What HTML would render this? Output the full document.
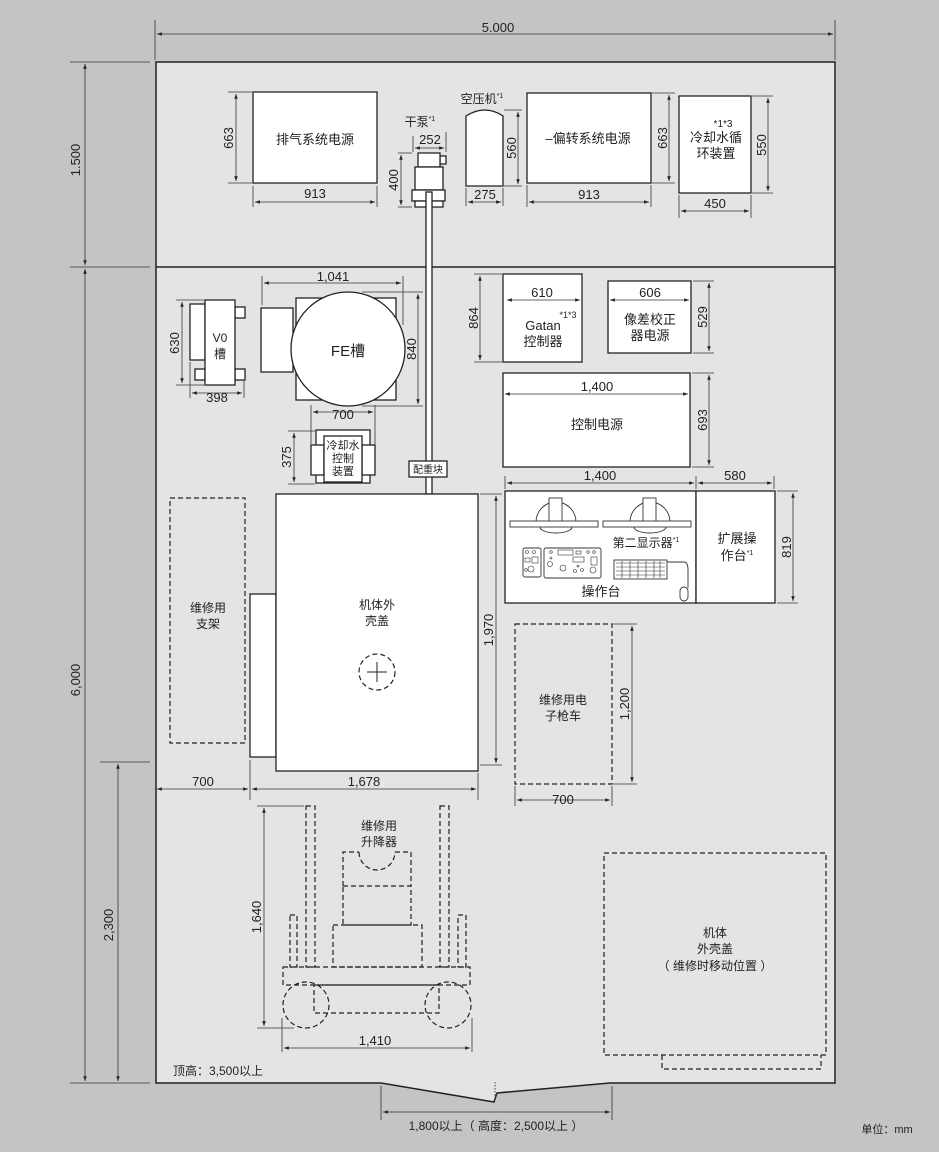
<!DOCTYPE html>
<html><head><meta charset="utf-8">
<style>
html,body{margin:0;padding:0;background:#c5c4c5;}
svg{display:block;font-family:"Liberation Sans","Noto Sans CJK SC",sans-serif;}
</style></head>
<body>
<svg width="939" height="1152" viewBox="0 0 939 1152" xmlns="http://www.w3.org/2000/svg">
<defs>
<marker id="a" viewBox="0 0 8 6" refX="8" refY="3" markerWidth="6" markerHeight="5" orient="auto-start-reverse"><path d="M0,0L8,3L0,6z" fill="#222"/></marker>
</defs>
<rect width="939" height="1152" fill="#c5c4c5"/>
<!-- room -->
<path d="M156,62H835V1083H610L497,1093L494,1102L381,1083H156Z" fill="#e4e4e4" stroke="#222" stroke-width="1.5"/>
<line x1="495" y1="1082" x2="495" y2="1100" stroke="#444" stroke-dasharray="1.5,1.5"/>
<line x1="156" y1="267" x2="835" y2="267" stroke="#222" stroke-width="1.5"/>

<g stroke="#333" stroke-width="0.8" fill="none">
<!-- outer dims -->
<line x1="155" y1="20" x2="155" y2="60"/><line x1="835" y1="20" x2="835" y2="60"/>
<line x1="157" y1="34" x2="833" y2="34" marker-start="url(#a)" marker-end="url(#a)"/>
<line x1="70" y1="62" x2="150" y2="62"/><line x1="70" y1="267" x2="150" y2="267"/>
<line x1="100" y1="762" x2="150" y2="762"/><line x1="70" y1="1083" x2="150" y2="1083"/>
<line x1="85" y1="64" x2="85" y2="265" marker-start="url(#a)" marker-end="url(#a)"/>
<line x1="85" y1="269" x2="85" y2="1081" marker-start="url(#a)" marker-end="url(#a)"/>
<line x1="118" y1="764" x2="118" y2="1081" marker-start="url(#a)" marker-end="url(#a)"/>
<!-- door dim -->
<line x1="381" y1="1086" x2="381" y2="1120"/><line x1="612" y1="1086" x2="612" y2="1120"/>
<line x1="383" y1="1112" x2="610" y2="1112" marker-start="url(#a)" marker-end="url(#a)"/>

<!-- exhaust -->
<line x1="228" y1="92" x2="252" y2="92"/><line x1="228" y1="183" x2="252" y2="183"/>
<line x1="236" y1="94" x2="236" y2="181" marker-start="url(#a)" marker-end="url(#a)"/>
<line x1="253" y1="186" x2="253" y2="207"/><line x1="377" y1="186" x2="377" y2="207"/>
<line x1="255" y1="202" x2="375" y2="202" marker-start="url(#a)" marker-end="url(#a)"/>
<!-- pump -->
<line x1="413" y1="136" x2="413" y2="152"/><line x1="446" y1="132" x2="446" y2="152"/>
<line x1="415" y1="148" x2="444" y2="148" marker-start="url(#a)" marker-end="url(#a)"/>
<line x1="398" y1="153" x2="412" y2="153"/><line x1="398" y1="207" x2="412" y2="207"/>
<line x1="401" y1="155" x2="401" y2="205" marker-start="url(#a)" marker-end="url(#a)"/>
<!-- compressor -->
<line x1="504" y1="110" x2="522" y2="110"/><line x1="504" y1="186" x2="522" y2="186"/>
<line x1="518" y1="112" x2="518" y2="184" marker-start="url(#a)" marker-end="url(#a)"/>
<line x1="466" y1="188" x2="466" y2="206"/><line x1="503" y1="188" x2="503" y2="206"/>
<line x1="468" y1="202" x2="501" y2="202" marker-start="url(#a)" marker-end="url(#a)"/>
<!-- deflection -->
<line x1="652" y1="93" x2="675" y2="93"/><line x1="652" y1="183" x2="675" y2="183"/>
<line x1="669" y1="95" x2="669" y2="181" marker-start="url(#a)" marker-end="url(#a)"/>
<line x1="527" y1="185" x2="527" y2="207"/><line x1="651" y1="185" x2="651" y2="207"/>
<line x1="529" y1="202" x2="649" y2="202" marker-start="url(#a)" marker-end="url(#a)"/>
<!-- cooling circ -->
<line x1="752" y1="96" x2="773" y2="96"/><line x1="752" y1="193" x2="773" y2="193"/>
<line x1="768" y1="98" x2="768" y2="191" marker-start="url(#a)" marker-end="url(#a)"/>
<line x1="679" y1="195" x2="679" y2="218"/><line x1="751" y1="195" x2="751" y2="218"/>
<line x1="681" y1="211" x2="749" y2="211" marker-start="url(#a)" marker-end="url(#a)"/>

<!-- FE -->
<line x1="262" y1="276" x2="262" y2="305"/><line x1="403" y1="276" x2="403" y2="325"/>
<line x1="264" y1="283" x2="401" y2="283" marker-start="url(#a)" marker-end="url(#a)"/>
<line x1="362" y1="292" x2="423" y2="292"/><line x1="362" y1="406" x2="423" y2="406"/>
<line x1="418" y1="294" x2="418" y2="404" marker-start="url(#a)" marker-end="url(#a)"/>
<!-- V0 -->
<line x1="176" y1="300" x2="204" y2="300"/><line x1="176" y1="385" x2="204" y2="385"/>
<line x1="182" y1="302" x2="182" y2="383" marker-start="url(#a)" marker-end="url(#a)"/>
<line x1="190" y1="362" x2="190" y2="398"/><line x1="244" y1="381" x2="244" y2="398"/>
<line x1="192" y1="393" x2="242" y2="393" marker-start="url(#a)" marker-end="url(#a)"/>
<!-- cooling ctrl -->
<line x1="311" y1="405" x2="311" y2="444"/><line x1="375" y1="405" x2="375" y2="444"/>
<line x1="313" y1="412" x2="373" y2="412" marker-start="url(#a)" marker-end="url(#a)"/>
<line x1="288" y1="431" x2="315" y2="431"/><line x1="288" y1="484" x2="315" y2="484"/>
<line x1="294" y1="433" x2="294" y2="482" marker-start="url(#a)" marker-end="url(#a)"/>
<!-- Gatan -->
<line x1="474" y1="274" x2="502" y2="274"/><line x1="474" y1="362" x2="502" y2="362"/>
<line x1="480" y1="276" x2="480" y2="360" marker-start="url(#a)" marker-end="url(#a)"/>
<line x1="693" y1="281" x2="714" y2="281"/><line x1="693" y1="353" x2="714" y2="353"/>
<line x1="709" y1="283" x2="709" y2="351" marker-start="url(#a)" marker-end="url(#a)"/>
<line x1="692" y1="373" x2="714" y2="373"/><line x1="692" y1="467" x2="714" y2="467"/>
<line x1="709" y1="375" x2="709" y2="465" marker-start="url(#a)" marker-end="url(#a)"/>
<!-- console -->
<line x1="505" y1="476" x2="505" y2="489"/><line x1="696" y1="476" x2="696" y2="489"/><line x1="774" y1="476" x2="774" y2="489"/>
<line x1="507" y1="483" x2="694" y2="483" marker-start="url(#a)" marker-end="url(#a)"/>
<line x1="698" y1="483" x2="772" y2="483" marker-start="url(#a)" marker-end="url(#a)"/>
<line x1="777" y1="491" x2="798" y2="491"/><line x1="777" y1="603" x2="798" y2="603"/>
<line x1="793" y1="493" x2="793" y2="601" marker-start="url(#a)" marker-end="url(#a)"/>
<!-- machine -->
<line x1="480" y1="494" x2="502" y2="494"/><line x1="480" y1="765" x2="502" y2="765"/>
<line x1="496" y1="496" x2="496" y2="763" marker-start="url(#a)" marker-end="url(#a)"/>
<line x1="250" y1="760" x2="250" y2="800"/><line x1="478" y1="773" x2="478" y2="800"/>
<line x1="157" y1="789" x2="248" y2="789" marker-start="url(#a)" marker-end="url(#a)"/>
<line x1="252" y1="789" x2="476" y2="789" marker-start="url(#a)" marker-end="url(#a)"/>
<!-- gun cart -->
<line x1="613" y1="624" x2="637" y2="624"/><line x1="613" y1="784" x2="637" y2="784"/>
<line x1="632" y1="626" x2="632" y2="782" marker-start="url(#a)" marker-end="url(#a)"/>
<line x1="515" y1="786" x2="515" y2="806"/><line x1="612" y1="786" x2="612" y2="806"/>
<line x1="517" y1="800" x2="610" y2="800" marker-start="url(#a)" marker-end="url(#a)"/>
<!-- lift -->
<line x1="257" y1="806" x2="304" y2="806"/><line x1="257" y1="1028" x2="294" y2="1028"/>
<line x1="264" y1="808" x2="264" y2="1026" marker-start="url(#a)" marker-end="url(#a)"/>
<line x1="282" y1="1018" x2="282" y2="1052"/><line x1="472" y1="1018" x2="472" y2="1052"/>
<line x1="284" y1="1048" x2="470" y2="1048" marker-start="url(#a)" marker-end="url(#a)"/>
</g>

<!-- solid white boxes -->
<g fill="#fff" stroke="#222" stroke-width="1.3">
<rect x="253" y="92" width="124" height="91"/>
<rect x="527" y="93" width="124" height="90"/>
<rect x="679" y="96" width="72" height="97"/>
<path d="M466,116Q485,104 503,116V186H466Z"/>
<!-- pump -->
<rect x="440" y="156" width="6" height="8"/>
<rect x="418" y="153" width="22" height="14"/>
<rect x="415" y="167" width="28" height="23"/>
<rect x="412" y="190" width="33" height="11"/>
<rect x="415" y="201" width="28" height="6"/>
<!-- pipe -->
<rect x="426" y="192" width="6" height="302"/>
<rect x="409" y="461" width="38" height="16"/>
<!-- FE -->
<rect x="296" y="298" width="100" height="102"/>
<rect x="261" y="308" width="32" height="64"/>
<circle cx="348" cy="349" r="57"/>
<!-- V0 -->
<rect x="190" y="304" width="15" height="56"/>
<rect x="235" y="307" width="10" height="11"/>
<rect x="195" y="369" width="10" height="11"/>
<rect x="235" y="369" width="10" height="11"/>
<rect x="205" y="300" width="30" height="85"/>
<!-- cooling ctrl -->
<rect x="316" y="430" width="54" height="53"/>
<rect x="311" y="445" width="13" height="30"/>
<rect x="362" y="445" width="13" height="30"/>
<rect x="324" y="436" width="38" height="46"/>
<!-- right -->
<rect x="503" y="274" width="79" height="88"/>
<rect x="608" y="281" width="83" height="72"/>
<rect x="503" y="373" width="187" height="94"/>
<rect x="505" y="491" width="191" height="112"/>
<rect x="696" y="491" width="79" height="112"/>
<!-- machine -->
<rect x="250" y="594" width="26" height="163"/>
<rect x="276" y="494" width="202" height="277"/>
</g>

<!-- inner dims -->
<g stroke="#333" stroke-width="0.8">
<line x1="507" y1="300" x2="580" y2="300" marker-start="url(#a)" marker-end="url(#a)"/>
<line x1="610" y1="300" x2="689" y2="300" marker-start="url(#a)" marker-end="url(#a)"/>
<line x1="505" y1="394" x2="688" y2="394" marker-start="url(#a)" marker-end="url(#a)"/>
</g>

<!-- console details -->
<g fill="#fff" stroke="#333" stroke-width="0.9">
<path d="M536,522A20,20 0 0 1 576,522"/>
<path d="M540,527A16,6 0 0 0 572,527"/>
<rect x="549" y="498" width="13" height="24"/>
<rect x="510" y="521" width="88" height="6"/>
<path d="M630,522A20,20 0 0 1 670,522"/>
<path d="M634,527A16,6 0 0 0 666,527"/>
<rect x="643" y="498" width="13" height="24"/>
<rect x="603" y="521" width="88" height="6"/>
<rect x="523" y="548" width="18" height="29" rx="2"/>
<rect x="544" y="548" width="57" height="30" rx="2"/>
<rect x="614" y="560" width="53" height="19"/>
<path d="M667,562H684Q688,562 688,570V588" fill="none"/>
<rect x="680" y="587" width="8" height="14" rx="4"/>
</g>
<g fill="none" stroke="#333" stroke-width="0.6">
<circle cx="527" cy="552" r="1.5"/><circle cx="534" cy="552" r="1.5"/>
<rect x="525" y="558" width="5" height="4"/><rect x="532" y="557" width="6" height="6"/>
<circle cx="531" cy="569" r="3"/><circle cx="526" cy="570" r="1.3"/>
<circle cx="551" cy="552" r="1.3"/><circle cx="551" cy="558" r="1"/><circle cx="550" cy="564" r="2.5"/>
<rect x="558" y="550" width="15" height="5"/><rect x="576" y="551" width="5" height="3"/>
<circle cx="588" cy="552" r="1.3"/><circle cx="594" cy="552" r="1.3"/>
<rect x="573" y="557" width="11" height="5"/><rect x="591" y="557" width="6" height="8"/>
<circle cx="563" cy="568" r="3"/><circle cx="593" cy="570" r="3"/>
<circle cx="575" cy="571" r="1.5"/><circle cx="582" cy="570" r="1.5"/><circle cx="578" cy="566" r="1"/>
<path d="M616,563H665M616,567H665M616,571H665M616,575H665M622,561V578M630,561V578M638,561V578M646,561V578M654,561V578M660,561V578"/>
</g>

<!-- dashed -->
<g fill="none" stroke="#222" stroke-width="1.2" stroke-dasharray="5,3">
<rect x="170" y="498" width="75" height="245"/>
<rect x="515" y="624" width="97" height="160"/>
<path d="M604,853H826V1055H604Z"/>
<path d="M662,1055V1069H821V1055"/>
<circle cx="377" cy="672" r="18"/>
<!-- lift -->
<rect x="306" y="806" width="9" height="161"/>
<rect x="440" y="806" width="9" height="161"/>
<path d="M343,886V852H359M395,852H411V886"/>
<path d="M359,852A18,18 0 0 0 395,852"/>
<rect x="343" y="886" width="68" height="39"/>
<rect x="333" y="925" width="89" height="42"/>
<rect x="290" y="915" width="7" height="52"/>
<rect x="458" y="915" width="8" height="52"/>
<rect x="283" y="967" width="187" height="18"/>
<rect x="314" y="985" width="125" height="28"/>
<circle cx="306" cy="1005" r="23"/>
<circle cx="448" cy="1005" r="23"/>
</g>
<path d="M367,672H387M377,662V682" stroke="#222" stroke-width="1"/>

<!-- text -->
<g fill="#222" font-size="13" text-anchor="middle">
<text x="498" y="32">5.000</text>
<text transform="translate(80,160) rotate(-90)">1.500</text>
<text transform="translate(80,680) rotate(-90)">6,000</text>
<text transform="translate(113,925) rotate(-90)">2,300</text>
<text x="315" y="144">排气系统电源</text>
<text transform="translate(233,138) rotate(-90)">663</text>
<text x="315" y="198">913</text>
<text x="420" y="126" font-size="12">干泵<tspan font-size="7" dy="-5">*1</tspan></text>
<text x="430" y="144">252</text>
<text transform="translate(398,180) rotate(-90)">400</text>
<text x="482" y="103" font-size="12">空压机<tspan font-size="7" dy="-5">*1</tspan></text>
<text transform="translate(516,148) rotate(-90)">560</text>
<text x="485" y="199">275</text>
<text x="588" y="143">–偏转系统电源</text>
<text transform="translate(667,138) rotate(-90)">663</text>
<text x="589" y="199">913</text>
<text x="723" y="127" font-size="10">*1*3</text>
<text x="716" y="142">冷却水循</text>
<text x="716" y="158">环装置</text>
<text transform="translate(766,145) rotate(-90)">550</text>
<text x="715" y="208">450</text>
<text x="333" y="281">1,041</text>
<text x="348" y="356" font-size="15">FE槽</text>
<text transform="translate(416,349) rotate(-90)">840</text>
<text x="220" y="342" font-size="12">V0</text>
<text x="220" y="358" font-size="12">槽</text>
<text transform="translate(179,343) rotate(-90)">630</text>
<text x="217" y="402">398</text>
<text x="343" y="419">700</text>
<text x="343" y="449" font-size="11">冷却水</text>
<text x="343" y="462" font-size="11">控制</text>
<text x="343" y="475" font-size="11">装置</text>
<text transform="translate(291,457) rotate(-90)">375</text>
<text x="428" y="473" font-size="10">配重块</text>
<text x="542" y="297">610</text>
<text x="568" y="318" font-size="9">*1*3</text>
<text x="543" y="330">Gatan</text>
<text x="543" y="346">控制器</text>
<text transform="translate(478,318) rotate(-90)">864</text>
<text x="650" y="297">606</text>
<text x="650" y="324">像差校正</text>
<text x="650" y="340">器电源</text>
<text transform="translate(707,317) rotate(-90)">529</text>
<text x="597" y="391">1,400</text>
<text x="597" y="429">控制电源</text>
<text transform="translate(707,420) rotate(-90)">693</text>
<text x="600" y="480">1,400</text>
<text x="735" y="480">580</text>
<text transform="translate(791,547) rotate(-90)">819</text>
<text x="646" y="547" font-size="12">第二显示器<tspan font-size="7" dy="-5">*1</tspan></text>
<text x="601" y="596">操作台</text>
<text x="737" y="543">扩展操</text>
<text x="737" y="560">作台<tspan font-size="7" dy="-5">*1</tspan></text>
<text x="377" y="609" font-size="12">机体外</text>
<text x="377" y="625" font-size="12">壳盖</text>
<text transform="translate(493,630) rotate(-90)">1,970</text>
<text x="203" y="786">700</text>
<text x="364" y="786">1,678</text>
<text x="208" y="612" font-size="12">维修用</text>
<text x="208" y="628" font-size="12">支架</text>
<text x="563" y="704" font-size="12">维修用电</text>
<text x="563" y="720" font-size="12">子枪车</text>
<text transform="translate(629,704) rotate(-90)">1,200</text>
<text x="563" y="804">700</text>
<text x="379" y="830" font-size="12">维修用</text>
<text x="379" y="846" font-size="12">升降器</text>
<text transform="translate(261,917) rotate(-90)">1,640</text>
<text x="375" y="1045">1,410</text>
<text x="715" y="937" font-size="12">机体</text>
<text x="715" y="953" font-size="12">外壳盖</text>
<text x="715" y="970" font-size="12">（ 维修时移动位置 ）</text>
<text x="218" y="1075" font-size="12">顶高：3,500以上</text>
<text x="496" y="1130" font-size="12">1,800以上（ 高度：2,500以上 ）</text>
<text x="887" y="1133" font-size="11">单位：mm</text>
</g>
</svg>
</body></html>
